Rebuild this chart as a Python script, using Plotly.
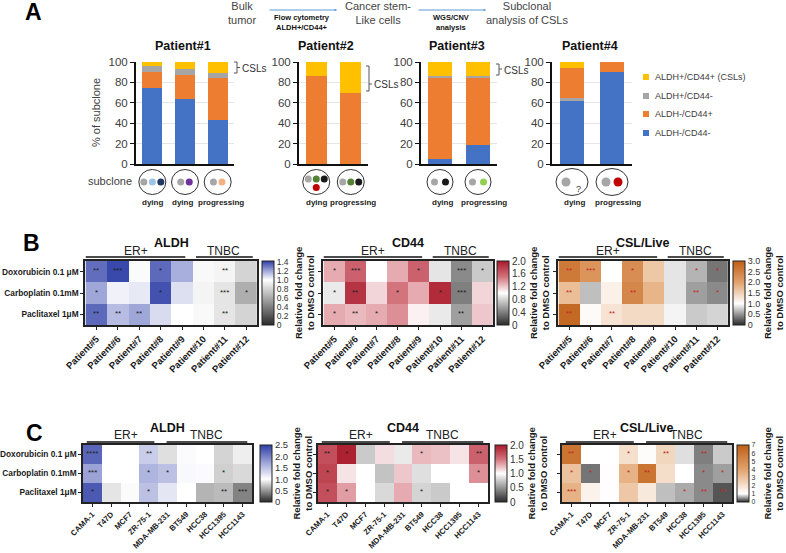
import plotly.graph_objects as go

W, H = 786, 553
FONT = "Liberation Sans"


def px(x):
    return x / W


def py(y):
    return 1 - y / H


# ---------------- Panel A data ----------------
seg_names = ["ALDH-/CD44-", "ALDH-/CD44+", "ALDH+/CD44-", "ALDH+/CD44+ (CSLs)"]
seg_colors = ["#4472C4", "#ED7D31", "#A5A5A5", "#FFC000"]
patient_titles = ["Patient#1", "Patient#2", "Patient#3", "Patient#4"]
p1_fate = ["dying", "dying", "progressing"]
p2_fate = ["dying", "progressing"]
p3_fate = ["dying", "progressing"]
p4_fate = ["dying", "progressing"]
# segment heights (% of subclone)
p1_blue = [75, 64, 43]; p1_orange = [15, 23, 41]; p1_gray = [6, 6, 5]; p1_yellow = [4, 7, 11]
p2_blue = [0, 0]; p2_orange = [86, 70]; p2_gray = [0, 0]; p2_yellow = [14, 30]
p3_blue = [5, 19]; p3_orange = [80, 66]; p3_gray = [1, 1]; p3_yellow = [14, 14]
p4_blue = [62, 90]; p4_orange = [29, 10]; p4_gray = [3, 0]; p4_yellow = [6, 0]
# subclone dots inside each circle (rows of dot colours, "?" = unknown)
p1_subclones = [[["#A6A6A6", "#9DC3E6", "#1F3864"]], [["#A6A6A6", "#7030A0"]], [["#A6A6A6", "#F4B183"]]]
p2_subclones = [[["#A6A6A6", "#548235", "#1A1A1A"], ["#C00000"]], [["#A6A6A6", "#548235", "#1A1A1A"]]]
p3_subclones = [[["#A6A6A6", "#1A1A1A"]], [["#A6A6A6", "#92D050"]]]
p4_subclones = [[["#A6A6A6", "?"]], [["#A6A6A6", "#C00000"]]]
y_ticks_A = [0, 20, 40, 60, 80, 100]

# ---------------- Panel B / C data ----------------
drugs = ["Doxorubicin 0.1 \u03bcM", "Carboplatin 0.1mM", "Paclitaxel 1\u03bcM"]
patients_B = ["Patient#5", "Patient#6", "Patient#7", "Patient#8", "Patient#9",
              "Patient#10", "Patient#11", "Patient#12"]
cells_C = ["CAMA-1", "T47D", "MCF7", "ZR-75-1", "MDA-MB-231", "BT549", "HCC38", "HCC1395", "HCC1143"]

B_aldh = [[1.32, 1.40, 1.01, 1.33, 1.18, 0.97, 0.95, 0.80],
          [1.20, 1.03, 1.05, 1.38, 1.07, 0.95, 0.88, 0.62],
          [1.33, 1.15, 1.20, 1.08, 1.00, 0.97, 0.88, 0.80]]
B_aldh_sig = [["**", "***", "", "*", "", "", "**", ""],
              ["*", "", "", "*", "", "", "***", "*"],
              ["**", "**", "**", "", "", "", "**", ""]]
B_cd44 = [[1.30, 1.60, 1.00, 1.30, 1.60, 0.88, 0.45, 0.75],
          [0.90, 1.85, 1.15, 1.50, 1.30, 1.90, 0.40, 1.15],
          [1.30, 1.25, 1.30, 1.40, 1.05, 0.90, 0.55, 1.20]]
B_cd44_sig = [["*", "***", "", "", "*", "", "***", "*"],
              ["*", "**", "", "*", "", "*", "***", ""],
              ["*", "**", "*", "", "", "", "**", ""]]
B_csl = [[2.60, 2.20, 1.00, 2.30, 1.60, 0.88, 0.65, 0.35],
         [1.70, 0.70, 1.15, 2.40, 1.80, 0.88, 0.55, 0.45],
         [2.85, 1.05, 1.30, 1.40, 1.40, 0.95, 0.75, 0.80]]
B_csl_sig = [["**", "***", "", "*", "", "", "*", "*"],
             ["**", "", "", "**", "", "", "**", "*"],
             ["**", "", "**", "", "", "", "", ""]]

C_aldh = [[2.20, 1.00, 1.00, 1.40, 0.85, 1.03, 1.00, 0.80, 0.92],
          [1.75, 1.00, 1.00, 1.60, 1.50, 1.05, 1.03, 0.78, 0.82],
          [2.30, 0.88, 0.98, 1.50, 1.20, 1.00, 0.65, 0.68, 0.42]]
C_aldh_sig = [["****", "", "", "**", "", "", "", "", ""],
              ["***", "", "", "*", "*", "", "", "*", ""],
              ["*", "", "", "*", "", "", "", "**", "***"]]
C_cd44 = [[1.70, 1.95, 0.75, 1.12, 0.90, 1.25, 1.22, 1.10, 1.60],
          [1.75, 1.10, 1.00, 0.72, 1.20, 0.85, 1.00, 1.00, 1.40],
          [1.70, 1.35, 1.00, 0.82, 1.30, 0.80, 0.75, 1.00, 1.00]]
C_cd44_sig = [["**", "*", "", "", "", "*", "", "", "**"],
              ["*", "", "", "", "", "", "", "", "*"],
              ["*", "*", "", "", "", "*", "", "", ""]]
C_csl = [[6.0, 1.0, 1.0, 2.0, 1.1, 2.3, 0.85, 0.40, 0.75],
         [3.0, 0.35, 1.05, 3.5, 6.0, 2.1, 1.0, 0.45, 0.55],
         [3.5, 1.4, 1.05, 2.8, 1.7, 0.70, 0.60, 0.45, 0.20]]
C_csl_sig = [["**", "", "", "*", "", "**", "", "**", ""],
             ["*", "*", "", "*", "**", "", "", "*", "*"],
             ["***", "", "", "", "", "", "*", "**", "**"]]

cb_aldh_B = [0, 0.2, 0.4, 0.6, 0.8, 1.0, 1.2, 1.4]
cb_cd44_B = [0, 0.4, 0.8, 1.2, 1.6, 2.0]
cb_csl_B = [0, 0.5, 1.0, 1.5, 2.0, 2.5, 3.0]
cb_aldh_C = [0, 0.5, 1.0, 1.5, 2.0, 2.5]
cb_cd44_C = [0, 0.5, 1.0, 1.5, 2.0]
cb_csl_C = [0, 1, 2, 3, 4, 5, 6, 7]

fig = go.Figure()
layout_axes = {}
shapes = []
ann = []


def txt(x, y, text, size=11, color="#404040", bold=False, xref="paper", yref="paper",
        xanchor="center", yanchor="middle", angle=0, **kw):
    ann.append(dict(x=x, y=y, xref=xref, yref=yref, text=text, showarrow=False,
                    xanchor=xanchor, yanchor=yanchor, textangle=angle,
                    font=dict(family=FONT, size=size, color=color,
                              weight="bold" if bold else "normal"), **kw))


# ---------------- Panel A ----------------
A_data = [
    ([p1_blue, p1_orange, p1_gray, p1_yellow], p1_fate, p1_subclones),
    ([p2_blue, p2_orange, p2_gray, p2_yellow], p2_fate, p2_subclones),
    ([p3_blue, p3_orange, p3_gray, p3_yellow], p3_fate, p3_subclones),
    ([p4_blue, p4_orange, p4_gray, p4_yellow], p4_fate, p4_subclones),
]
A_style = [
    dict(x0=136, x1=234, rx=13.5, ry=12.5, dot=3.5, gap=8.5, order=[0, 1, 2, 3], title=183,
         lab=[152, 182, 221]),
    dict(x0=299, x1=368, rx=13.5, ry=12.5, dot=3.5, gap=8.0, order=[0, 1, 2, 3], title=326,
         lab=[316, 353]),
    dict(x0=421, x1=497, rx=13.0, ry=12.5, dot=3.5, gap=11.0, order=[0, 1, 2, 3], title=457,
         lab=[443, 484]),
    dict(x0=552, x1=632, rx=16.0, ry=13.5, dot=4.5, gap=12.0, order=[0, 2, 1, 3], title=590,
         lab=[574, 618]),
]
A_top, A_bot = 62, 164
circle_y = 182

for k, ((segs, fates, subs), st) in enumerate(zip(A_data, A_style), start=1):
    n = len(fates)
    xs = list(range(n))
    for s in st["order"]:
        fig.add_trace(go.Bar(x=xs, y=segs[s], name=seg_names[s], marker=dict(color=seg_colors[s], line=dict(width=0)),
                             width=0.62, xaxis=f"x{k}", yaxis=f"y{k}", showlegend=False, hoverinfo="skip"))
    layout_axes[f"xaxis{k}"] = dict(domain=[px(st["x0"]), px(st["x1"])], anchor=f"y{k}", range=[-0.5, n - 0.5],
                                    showticklabels=False, ticks="", showline=True, linecolor="#111",
                                    linewidth=2, showgrid=False, zeroline=False, automargin=False)
    layout_axes[f"yaxis{k}"] = dict(domain=[py(A_bot), py(A_top)], anchor=f"x{k}", range=[0, 100],
                                    tickvals=y_ticks_A, ticks="outside", ticklen=4, tickcolor="#111",
                                    tickfont=dict(family=FONT, size=11.5, color="#404040"),
                                    showline=True, linecolor="#111", linewidth=2, automargin=False,
                                    showgrid=True, gridcolor="#e6e6e6", zeroline=False)
    txt(px(st["title"]), py(46), patient_titles[k - 1], size=12.5, color="#111", bold=True)
    for i in xs:
        shapes.append(dict(type="circle", xref=f"x{k}", yref="paper", xsizemode="pixel", ysizemode="pixel",
                           xanchor=i, yanchor=py(circle_y), x0=-st["rx"], x1=st["rx"],
                           y0=-st["ry"], y1=st["ry"], line=dict(color="#333", width=1)))
        rows = subs[i]
        for j, row in enumerate(rows):
            yoff = 0 if len(rows) == 1 else (3 if j == 0 else -5.5)
            m = len(row)
            for d, c in enumerate(row):
                xoff = (d - (m - 1) / 2) * st["gap"]
                if c == "?":
                    ann.append(dict(x=i, y=py(circle_y), xref=f"x{k}", yref="paper", text="?", showarrow=False,
                                    xshift=xoff, yshift=yoff, font=dict(family=FONT, size=9, color="#333")))
                else:
                    r = st["dot"]
                    shapes.append(dict(type="circle", xref=f"x{k}", yref="paper", xsizemode="pixel",
                                       ysizemode="pixel", xanchor=i, yanchor=py(circle_y),
                                       x0=xoff - r, x1=xoff + r, y0=yoff - r, y1=yoff + r,
                                       fillcolor=c, line=dict(width=0)))
        txt(px(st["lab"][i]), py(203), fates[i], size=8, color="#222", bold=True)


# CSL brackets
def bracket(x, y0, y1, ym, label_x, label_y):
    path = (f"M {px(x)},{py(y0)} L {px(x+3)},{py(y0)} L {px(x+3)},{py(y1)} L {px(x)},{py(y1)} "
            f"M {px(x+3)},{py(ym)} L {px(x+6)},{py(ym)}")
    shapes.append(dict(type="path", xref="paper", yref="paper", path=path, line=dict(color="#555", width=1)))
    txt(px(label_x), py(label_y), "CSLs", size=10, color="#333")


bracket(234, 62, 73, 67.5, 254, 68)
bracket(366, 66, 91, 84, 386, 85)
bracket(496, 64, 75, 69, 516, 70)

txt(px(96), py(113), "% of subclone", size=11, color="#404040", angle=-90)
txt(px(110), py(181), "subclone", size=11, color="#404040")

# legend (drawn from the series names / colours)
leg_y = [77, 96, 114, 133]
for yy, s in zip(leg_y, [3, 2, 1, 0]):
    shapes.append(dict(type="rect", xref="paper", yref="paper", x0=px(643), x1=px(649),
                       y0=py(yy + 3), y1=py(yy - 3), fillcolor=seg_colors[s], line=dict(width=0)))
    txt(px(653), py(yy), seg_names[s], size=9, color="#404040", xanchor="left")

# top workflow
txt(px(242), py(13), "Bulk<br>tumor", size=11, color="#444")
txt(px(378), py(13), "Cancer stem-<br>Like cells", size=11, color="#444")
txt(px(527), py(13), "Subclonal<br>analysis of CSLs", size=11, color="#444")
txt(px(302), py(22), "Flow cytometry<br>ALDH+/CD44+", size=7.5, color="#111", bold=True)
txt(px(451), py(22), "WGS/CNV<br>analysis", size=7.5, color="#111", bold=True)
for a0, a1 in [(268, 337), (417, 486)]:
    ann.append(dict(x=px(a1), y=py(10), xref="paper", yref="paper", ax=a0 - a1, ay=0, text="",
                    showarrow=True, arrowhead=2, arrowsize=0.5, arrowwidth=1, arrowcolor="#5B9BD5"))

# panel letters
txt(px(33), py(12), "A", size=23, color="#000", bold=True)
txt(px(31), py(243), "B", size=23, color="#000", bold=True)
txt(px(34), py(433), "C", size=23, color="#000", bold=True)


# ---------------- Panels B / C heatmaps ----------------
def cscale(white, mid, top):
    return [[0, "#2a2a2a"], [white, "#ffffff"], [(1 + white) / 2, mid], [1, top]]


BLUE, RED, ORANGE = ("#9aa2d6", "#2f3fa6"), ("#d3737c", "#a8192a"), ("#e2a26c", "#bf5f16")

heat_specs = [
    # k, z, sig, cols, x0, x1, top, bot, zmax, colour, ticks, star colour, title, row labels,
    # colorbar x, colorbar tick size, column label size
    (5, B_aldh, B_aldh_sig, patients_B, 85, 257, 261, 325, 1.42, BLUE, cb_aldh_B, "#222", "ALDH", True, 262, 8.5, 9.5),
    (6, B_cd44, B_cd44_sig, patients_B, 323, 493, 261, 325, 2.0, RED, cb_cd44_B, "#222", "CD44", False, 497, 10, 9.5),
    (7, B_csl, B_csl_sig, patients_B, 558, 728, 261, 325, 3.0, ORANGE, cb_csl_B, "#c0282a", "CSL/Live", False, 733, 9, 9.5),
    (8, C_aldh, C_aldh_sig, cells_C, 83, 252, 445, 502, 2.5, BLUE, cb_aldh_C, "#222", "ALDH", True, 260, 9.5, 7.8),
    (9, C_cd44, C_cd44_sig, cells_C, 318, 488, 445, 502, 2.0, RED, cb_cd44_C, "#222", "CD44", False, 495, 10, 7.8),
    (10, C_csl, C_csl_sig, cells_C, 562, 732, 445, 502, 7.0, ORANGE, cb_csl_C, "#c0282a", "CSL/Live", False, 737, 7, 7.8),
]

for (k, z, sig, cols, x0, x1, top, bot, zmax, col, ticks, starc, title, rowlab, cbx, tsize, xsize) in heat_specs:
    ticktext = ["0" if t == 0 else (f"{t:.1f}" if zmax < 5 else f"{t:g}") for t in ticks]
    fig.add_trace(go.Heatmap(
        z=z, x=cols, y=drugs, xaxis=f"x{k}", yaxis=f"y{k}", zmin=0, zmax=zmax,
        colorscale=cscale(1.0 / zmax, col[0], col[1]), hoverinfo="skip",
        colorbar=dict(x=px(cbx), xanchor="left", xpad=0, ypad=0, y=py((top + bot) / 2), yanchor="middle",
                      len=(bot - top) / H, lenmode="fraction", thickness=12, thicknessmode="pixels",
                      outlinewidth=1, outlinecolor="#222", tickvals=ticks, ticktext=ticktext, ticks="",
                      tickfont=dict(family=FONT, size=tsize, color="#333"))))
    layout_axes[f"xaxis{k}"] = dict(domain=[px(x0), px(x1)], anchor=f"y{k}", type="category",
                                    tickangle=-45, ticks="outside", ticklen=3, tickcolor="#222",
                                    tickfont=dict(family=FONT, size=xsize, color="#1a1a1a", weight="bold"),
                                    showline=True, mirror=True, linecolor="#222", linewidth=1.5,
                                    showgrid=False, zeroline=False, automargin=False)
    layout_axes[f"yaxis{k}"] = dict(domain=[py(bot), py(top)], anchor=f"x{k}", type="category",
                                    autorange="reversed", ticks="outside", ticklen=3, tickcolor="#222",
                                    showticklabels=rowlab, automargin=False,
                                    tickfont=dict(family=FONT, size=8.3, color="#1a1a1a", weight="bold"),
                                    showline=True, mirror=True, linecolor="#222", linewidth=1.5,
                                    showgrid=False, zeroline=False)
    for r, row in enumerate(sig):
        for c, s in enumerate(row):
            if s:
                ann.append(dict(x=cols[c], y=drugs[r], xref=f"x{k}", yref=f"y{k}", text=s, showarrow=False,
                                yshift=1, font=dict(family=FONT, size=8, color=starc)))
    n = len(cols)
    if n == 8:
        er, tn, ert, tnt, ly, ty, tty = (-0.5, 4.15), (4.65, 7.3), 1.85, 5.95, 257, 251, 243
    else:
        er, tn, ert, tnt, ly, ty, tty = (-0.3, 3.3), (3.95, 8.25), 1.8, 6.1, 442, 435, 428
    for a, b in (er, tn):
        shapes.append(dict(type="line", xref=f"x{k}", yref="paper", x0=a, x1=b, y0=py(ly), y1=py(ly),
                           line=dict(color="#111", width=1.5)))
    txt(ert, py(ty), "ER+", size=12, color="#222", xref=f"x{k}")
    txt(tnt, py(ty), "TNBC", size=12, color="#222", xref=f"x{k}")
    txt((n - 1) / 2, py(tty), title, size=12.5, color="#111", bold=True, xref=f"x{k}")
    txt(px(min(cbx + 42, 773)), py((top + bot) / 2), "Relative fold change<br>to DMSO control", size=9.5,
        color="#1a1a1a", bold=True, angle=-90)

fig.update_layout(
    width=W, height=H, margin=dict(l=0, r=0, t=0, b=0, autoexpand=False), autosize=False,
    paper_bgcolor="white", plot_bgcolor="white", barmode="stack", showlegend=False,
    font=dict(family=FONT), shapes=shapes, annotations=ann, **layout_axes)

fig.write_html("out.html", config={"displayModeBar": False},
               post_script="document.body.style.margin='0px';")
